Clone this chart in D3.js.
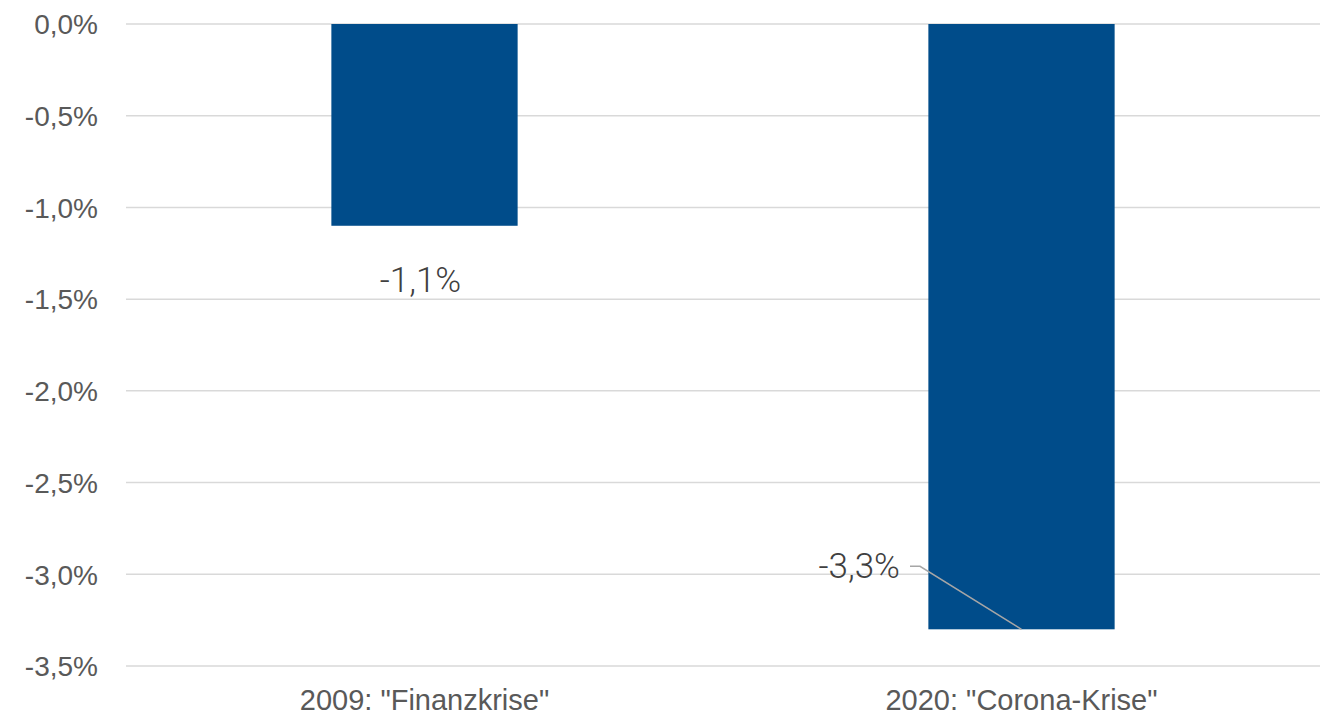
<!DOCTYPE html>
<html>
<head>
<meta charset="utf-8">
<script src="https://cdn.jsdelivr.net/npm/d3@7"></script>
<style>
  body { margin: 0; background: #fff; }
  svg { display: block; font-family: Roboto, "Open Sans", sans-serif; font-weight: 300; }
</style>
</head>
<body>
<svg id="chart" width="1327" height="718"></svg>
<script>
// data
var categories = ['2009: "Finanzkrise"', '2020: "Corona-Krise"'];
var values = [-1.1, -3.3];
var labels = ["-1,1%", "-3,3%"];
var ticks = [0, -0.5, -1.0, -1.5, -2.0, -2.5, -3.0, -3.5];

var svg = d3.select("#chart"),
    plotLeft = 126, plotRight = 1320, plotTop = 24, plotBottom = 666,
    barColor = "#004c8a", gridColor = "#d9d9d9", textColor = "#595959";

var x = d3.scaleBand().domain(categories).range([plotLeft, plotRight]).padding(0);
var y = d3.scaleLinear().domain([-3.5, 0]).range([plotBottom, plotTop]);
var barW = x.bandwidth() * 0.312;

var fmt = function (d) { return d3.format(".1f")(d).replace(".", ",").replace("−", "-") + "%"; };

// gridlines
svg.append("g").selectAll("line").data(ticks).join("line")
    .attr("x1", plotLeft).attr("x2", plotRight)
    .attr("y1", function (d) { return y(d); }).attr("y2", function (d) { return y(d); })
    .attr("stroke", gridColor).attr("stroke-width", 1.5);

// y axis labels
var yAxis = svg.append("g").attr("transform", "translate(" + (plotLeft - 28) + ",0)")
    .call(d3.axisLeft(y).tickValues(ticks).tickFormat(fmt).tickSize(0).tickPadding(0));
yAxis.select(".domain").remove();
yAxis.selectAll("text").attr("font-size", 28).attr("fill", textColor)
    .attr("font-family", null).attr("dy", "0.35em");

// x axis labels
var xAxis = svg.append("g").attr("transform", "translate(0," + (plotBottom + 22) + ")")
    .call(d3.axisBottom(x).tickSize(0).tickPadding(0));
xAxis.select(".domain").remove();
xAxis.selectAll("text").attr("font-size", 29).attr("fill", textColor)
    .attr("font-family", null).attr("dy", "0.75em");

// bars
svg.append("g").selectAll("rect").data(values).join("rect")
    .attr("x", function (d, i) { return x(categories[i]) + x.bandwidth() / 2 - barW / 2; })
    .attr("y", y(0))
    .attr("width", barW)
    .attr("height", function (d) { return y(d) - y(0); })
    .attr("fill", barColor);

// data labels
var c1 = x(categories[0]) + x.bandwidth() / 2;
svg.append("text").attr("x", c1 - 4).attr("y", y(values[0]) + 66)
    .attr("text-anchor", "middle").attr("font-size", 35).attr("fill", "#404040")
    .text(labels[0]);

var c2 = x(categories[1]) + x.bandwidth() / 2;
svg.append("text").attr("x", 900).attr("y", y(values[1]) - 51)
    .attr("text-anchor", "end").attr("font-size", 35).attr("fill", "#404040")
    .text(labels[1]);

// leader line
svg.append("polyline")
    .attr("points", [[910, y(values[1]) - 63], [920, y(values[1]) - 63], [c2, y(values[1])]].map(function (p) { return p.join(","); }).join(" "))
    .attr("fill", "none").attr("stroke", "#a6a6a6").attr("stroke-width", 1.5);
</script>
</body>
</html>
